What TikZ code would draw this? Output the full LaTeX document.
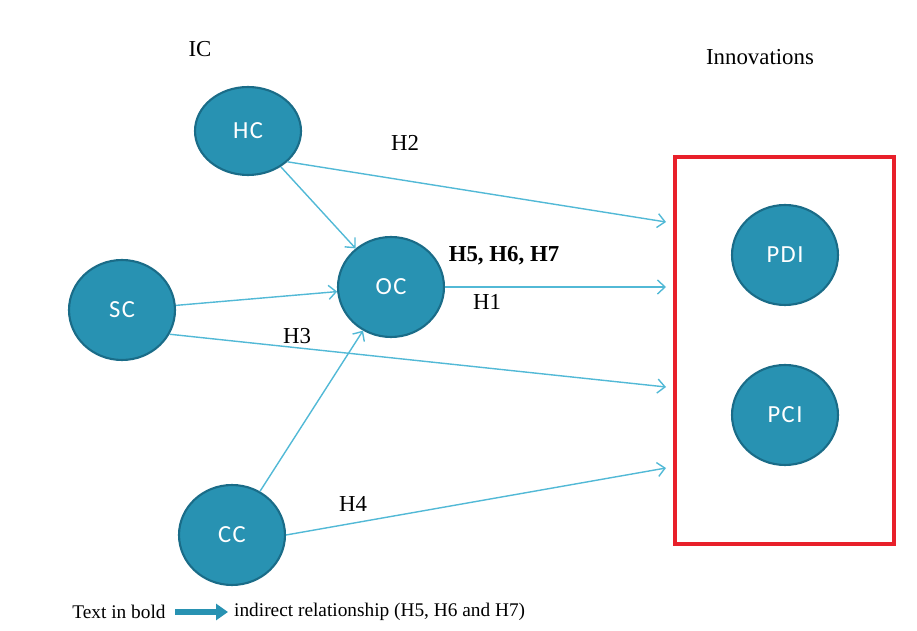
\documentclass[tikz,border=0pt]{standalone}
\usepackage{fontspec}
\setmainfont{Liberation Serif}
\newfontfamily\circfont[LetterSpace=6]{Carlito}
\usepackage{tikz}
\usetikzlibrary{arrows,arrows.meta,shapes,calc}
\definecolor{circfill}{RGB}{40,146,178}
\definecolor{circline}{RGB}{26,108,136}
\definecolor{linkcol}{RGB}{82,185,214}
\definecolor{boxred}{RGB}{232,32,42}
\tikzset{
         ic/.style=
          {
           ellipse,draw=circline,line width=1.2pt,fill=circfill,
           minimum width=2.12cm,minimum height=2cm,inner sep=0pt,
           text=white,font=\circfont\fontsize{14}{16}\selectfont
          },
         link/.style={-{Straight Barb[length=1.5mm,width=2.8mm]},draw=linkcol,line width=.8pt},
         lab/.style={font=\fontsize{13}{15}\selectfont},
         leg/.style={font=\fontsize{11}{13}\selectfont}
        }
\begin{document}
\begin{tikzpicture}[x=.02cm,y=-.02cm]
\useasboundingbox(0,0)rectangle(917,631);
%innovations box
\draw[boxred,line width=2pt](675,157)rectangle(894,544);
%constructs
\node[ic,minimum height=1.76cm](hc)at(248,131){HC};
\node[ic](oc)at(391,287){OC};
\node[ic](sc)at(122,310){SC};
\node[ic](cc)at(232,535){CC};
\node[ic](pdi)at(785,255){PDI};
\node[ic](pci)at(785,415){PCI};
%arrow ends at the box
\coordinate(t1)at(666,287);
\coordinate(t2)at(666,222);
\coordinate(t3)at(666,387);
\coordinate(t4)at(666,468);
%paths
\draw[link](hc)--(oc);
\draw[link](sc)--(oc);
\draw[link](cc)--(oc);
\draw[link](hc.-38)--(t2);
\draw[link](oc.east)--(t1);
\draw[link](sc.-27)--(t3);
\draw[link](cc.east)--(t4);
%labels
\node[lab](iclab)at(200,49){IC};
\node[lab](innolab)at(760,57){Innovations};
\node[lab](h2)at(405,143){H2};
\node[lab,font=\bfseries\fontsize{13}{15}\selectfont](h567)at(504,256){H5, H6, H7};
\node[lab](h1)at(487,302){H1};
\node[lab](h3)at(297,336){H3};
\node[lab](h4)at(353,504){H4};
%legend
\node[leg](lgl)at(119,612){Text in bold};
\node[leg,anchor=west](lgr)at(228,612){indirect relationship (H5, H6 and H7)};
\draw[circfill,line width=.12cm,-{Triangle[length=.24cm,width=.32cm]},shorten <=2pt](lgl.east)--(lgr.west);
\end{tikzpicture}
\end{document}
